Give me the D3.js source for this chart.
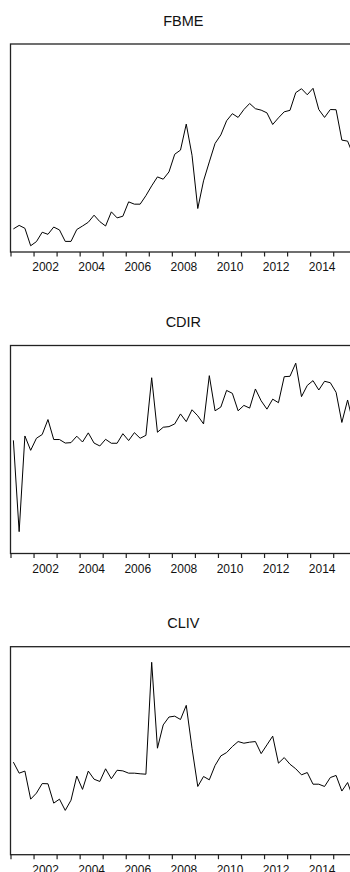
<!DOCTYPE html>
<html>
<head>
<meta charset="utf-8">
<script src="https://cdn.jsdelivr.net/npm/d3@7"></script>
<style>
  html, body { margin: 0; padding: 0; background: #fff; }
  svg { display: block; }
  text { font-family: "Liberation Sans", Arial, sans-serif; fill: #111; }
</style>
</head>
<body>
<svg id="chart" width="350" height="872"></svg>
<script>
// Quarterly series, 2001Q1 .. 2015Q4 (index values, 0-100 scale per panel)
const startYear = 2001;
const endYear = 2016;

const fbme = [
  11.1, 12.8, 11.4, 3.0, 5.0, 9.5, 8.5, 12.0, 10.6, 5.1,
  5.1, 10.8, 12.5, 14.3, 17.7, 14.6, 12.5, 19.3, 16.4, 17.2,
  24.1, 23.0, 23.0, 27.1, 31.8, 36.1, 35.0, 38.5, 47.0, 49.0,
  61.5, 46.5, 20.9, 34.2, 43.3, 52.2, 56.3, 63.1, 66.5, 64.7,
  68.5, 71.4, 68.9, 68.2, 66.9, 61.3, 64.5, 67.4, 68.1, 76.6,
  78.5, 75.6, 78.7, 68.5, 64.7, 68.5, 68.4, 53.8, 53.3, 46.4
];

const cdir = [
  54.4, 10.5, 56.5, 49.6, 55.4, 57.2, 64.4, 54.8, 54.8, 53.1,
  53.3, 56.4, 53.6, 58.0, 53.1, 51.7, 54.9, 53.0, 53.0, 57.6,
  54.3, 58.1, 55.4, 56.8, 84.5, 58.3, 60.7, 61.0, 62.3, 67.1,
  63.4, 69.1, 66.2, 62.3, 85.5, 68.6, 70.4, 78.4, 77.0, 68.6,
  71.2, 69.9, 79.1, 73.4, 69.4, 74.2, 72.5, 85.0, 85.2, 91.5,
  75.4, 80.8, 83.1, 78.6, 82.8, 82.1, 77.5, 63.0, 73.8, 62.2
];

const cliv = [
  44.5, 39.2, 40.2, 26.7, 29.6, 34.2, 34.1, 24.8, 26.7, 21.3,
  26.2, 37.8, 31.4, 40.2, 36.3, 35.2, 41.3, 36.5, 40.6, 40.3,
  39.2, 39.2, 38.9, 38.7, 92.5, 51.2, 62.4, 66.2, 66.6, 65.0,
  71.8, 51.2, 32.8, 37.6, 36.0, 42.9, 47.5, 49.1, 52.0, 54.4,
  53.6, 54.1, 54.4, 48.6, 52.8, 57.0, 44.0, 46.7, 43.5, 41.3,
  38.4, 39.5, 33.9, 33.9, 32.8, 37.1, 38.1, 30.6, 34.7, 26.9
];

const seriesNames = ["FBME", "CDIR", "CLIV"];
const seriesValues = [fbme, cdir, cliv];

// Year ticks on every boundary, labels on even years
const tickYears = d3.range(startYear, endYear + 1);
const labelYears = [2002, 2004, 2006, 2008, 2010, 2012, 2014];

// Layout
const panelTops = [44, 345.5, 646.7];
const panelHeight = 208;
const plotLeft = 10.5;
const pxPerYear = 23.05;
const plotRight = plotLeft + (endYear - startYear) * pxPerYear;

const svg = d3.select("#chart");

const x = d3.scaleLinear()
  .domain([startYear, endYear])
  .range([plotLeft, plotRight]);

// observation i sits at the middle of its quarter
const obsTime = i => startYear + i / 4 + 0.125;

seriesNames.forEach((name, k) => {
  const top = panelTops[k];
  const bottom = top + panelHeight;
  const y = d3.scaleLinear().domain([0, 100]).range([bottom, top]);

  const g = svg.append("g").attr("class", "panel");

  // title
  g.append("text")
    .attr("x", (plotLeft + plotRight) / 2)
    .attr("y", top - 18.5)
    .attr("text-anchor", "middle")
    .style("font-size", "14.5px")
    .text(name);

  // series line
  const line = d3.line()
    .x((d, i) => x(obsTime(i)))
    .y(d => y(d));

  g.append("path")
    .datum(seriesValues[k])
    .attr("fill", "none")
    .attr("stroke", "#000")
    .attr("stroke-width", 1)
    .attr("stroke-linejoin", "miter")
    .attr("d", line);

  // frame
  g.append("rect")
    .attr("x", plotLeft)
    .attr("y", top)
    .attr("width", plotRight - plotLeft)
    .attr("height", panelHeight)
    .attr("fill", "none")
    .attr("stroke", "#222")
    .attr("stroke-width", 1.3);

  // yearly tick marks
  const tickAxis = d3.axisBottom(x)
    .tickValues(tickYears)
    .tickFormat("")
    .tickSize(4.5)
    .tickSizeOuter(0);
  const ta = g.append("g")
    .attr("transform", `translate(0,${bottom})`)
    .call(tickAxis);
  ta.select(".domain").remove();
  ta.selectAll(".tick line").attr("stroke", "#222").attr("stroke-width", 1.2);

  // year labels centred within each labelled year
  const labelAxis = d3.axisBottom(x)
    .tickValues(labelYears.map(yr => yr + 0.5))
    .tickFormat(v => String(Math.floor(v)))
    .tickSize(0)
    .tickPadding(10.5);
  const la = g.append("g")
    .attr("transform", `translate(0,${bottom})`)
    .call(labelAxis);
  la.select(".domain").remove();
  la.selectAll(".tick text")
    .style("font-size", "12px")
    .style("font-family", '"Liberation Sans", Arial, sans-serif')
    .attr("fill", "#111");
});
</script>
</body>
</html>
